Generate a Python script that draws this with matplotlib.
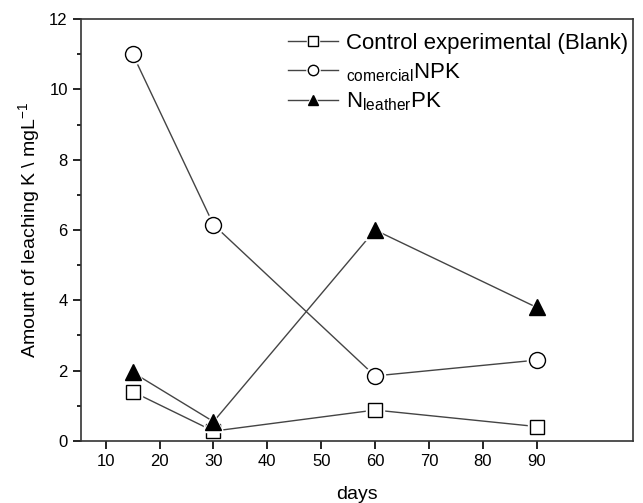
import matplotlib
matplotlib.use("Agg")
import matplotlib.pyplot as plt
from matplotlib.ticker import MultipleLocator

plt.rcParams['font.family'] = 'Liberation Sans'
plt.rcParams['mathtext.fontset'] = 'custom'
plt.rcParams['mathtext.rm'] = 'Liberation Sans'
plt.rcParams['mathtext.it'] = 'Liberation Sans'

jours = [15, 30, 60, 90]
blank = [1.4, 0.28, 0.88, 0.41]
npk = [11.0, 6.15, 1.85, 2.3]
leather = [1.95, 0.55, 6.0, 3.8]

labels = ["Control experimental (Blank)",
          r"$_{\mathrm{comercial}}$NPK",
          r"N$_{\mathrm{leather}}$PK"]

fig = plt.figure(figsize=(6.43, 5.03), dpi=100)
ax = fig.add_axes([0.126, 0.1233, 0.8584, 0.8389])

styles = [("s", 10, "white"), ("o", 11.5, "white"), ("^", 12, "black")]
handles = []
for y, (m, ms, fc) in zip([blank, npk, leather], styles):
    ligne, = ax.plot(jours, y, color="#444444", lw=1.0)
    halo, = ax.plot(jours, y, ls="none", marker=m, ms=ms + 3, mfc="white", mec="white")
    pt, = ax.plot(jours, y, ls="none", marker=m, ms=ms, mfc=fc, mec="black", mew=1.0)
    handles.append((ligne, halo, pt))

leg = ax.legend(handles, labels, loc="upper right", bbox_to_anchor=(0.991, 0.967),
                frameon=False, fontsize=16,
                handlelength=2.25, handletextpad=0.36, labelspacing=0.32,
                borderaxespad=0, borderpad=0, markerscale=0.65)

ax.set_xlim(5.4, 107.9)
ax.set_ylim(0, 12)
ax.set_xticks(range(10, 100, 10))
ax.yaxis.set_major_locator(MultipleLocator(2))
ax.yaxis.set_minor_locator(MultipleLocator(1))
ax.tick_params(which="major", direction="out", length=6, width=1.2, labelsize=12)
ax.tick_params(which="minor", direction="out", length=3, width=1.2)
for s in ax.spines.values():
    s.set_linewidth(1.2)
    s.set_color("#333333")

ax.set_xlabel("days", fontsize=14, labelpad=12)
ax.set_ylabel(r"Amount of leaching K \ mgL$^{\mathrm{-1}}$", fontsize=14, labelpad=5)

fig.savefig("out.png", dpi=100)
